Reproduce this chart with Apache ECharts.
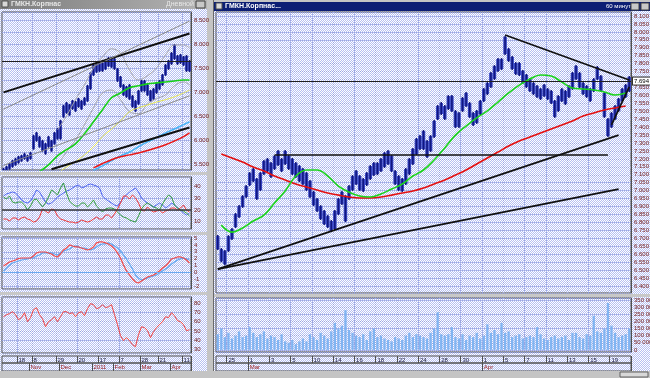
<!DOCTYPE html>
<html>
<head>
<meta charset="utf-8">
<title>ГМКН</title>
<script src="https://cdn.jsdelivr.net/npm/echarts@6/dist/echarts.min.js"></script>
<style>
  html, body { margin: 0; padding: 0; background: #fff; }
  #main { width: 650px; height: 378px; }
</style>
</head>
<body>
<div id="main"></div>
<script>
// ---- left window: daily bars, one slot ~ 2 trading days ----
const leftCats = Array.from({ length: 63 }, (_, i) => String(i));
const lHi = [5.422, 5.463, 5.526, 5.588, 5.630, 5.671, 5.692, 5.734, 5.692, 5.754,
  6.108, 6.170, 6.087, 6.004, 5.942, 6.087, 6.004, 6.170, 6.254, 6.420,
  6.732, 6.794, 6.753, 6.836, 6.815, 6.878, 6.836, 6.898, 7.148, 7.418,
  7.585, 7.606, 7.626, 7.626, 7.668, 7.730, 7.710, 7.710, 7.502, 7.335,
  7.169, 7.127, 7.169, 6.940, 6.836, 7.044, 7.252, 7.252, 7.169, 7.044,
  7.086, 7.210, 7.252, 7.377, 7.585, 7.668, 7.834, 8.001, 7.772, 7.793,
  7.751, 7.772, 7.668];
const lLo = [5.255, 5.297, 5.380, 5.422, 5.463, 5.505, 5.546, 5.588, 5.546, 5.588,
  5.796, 5.962, 5.838, 5.754, 5.692, 5.838, 5.754, 5.900, 6.004, 6.004,
  6.462, 6.545, 6.503, 6.628, 6.586, 6.670, 6.628, 6.711, 6.794, 7.044,
  7.335, 7.398, 7.418, 7.418, 7.460, 7.522, 7.502, 7.460, 7.210, 7.086,
  6.919, 6.878, 6.836, 6.670, 6.586, 6.732, 7.002, 7.002, 6.919, 6.794,
  6.836, 6.961, 7.044, 7.127, 7.335, 7.460, 7.564, 7.668, 7.564, 7.585,
  7.543, 7.418, 7.418];
const lMaIdx = [0, 3, 6, 9, 12, 15, 18, 21, 24, 27, 30, 33, 36, 39, 42, 45, 48, 51, 54, 57, 60, 62];
const lGreen = [4.65, 4.92, 5.07, 5.21, 5.34, 5.48, 5.67, 5.80, 5.92, 6.13, 6.38, 6.63, 6.88, 6.98, 7.09, 7.13, 7.17, 7.19, 7.21, 7.23, 7.25, 7.25];
const lYellow = [null, null, null, null, null, null, 5.30, 5.44, 5.55, 5.69, 5.86, 6.07, 6.23, 6.40, 6.59, 6.67, 6.73, 6.79, 6.84, 6.90, 6.98, 7.04];
const lCyan = [null, null, null, null, null, null, null, null, null, null, 5.37, 5.46, 5.57, 5.67, 5.75, 5.86, 5.96, 6.05, 6.15, 6.23, 6.32, 6.38];
const lRed = [null, null, null, null, null, null, null, null, null, null, 5.42, 5.51, 5.59, 5.65, 5.69, 5.73, 5.78, 5.84, 5.90, 5.98, 6.07, 6.15];
const lBandUp = [null, null, null, null, null, null, 6.21, 6.50, 6.84, 7.15, 7.50, 7.73, 7.90, 7.81, 7.46, 7.25, 7.34, 7.50, 7.77, 7.98, 7.98, 7.92];
const lBandDn = [null, null, null, null, null, null, 5.48, 5.75, 6.00, 6.32, 6.67, 6.98, 7.04, 6.84, 6.59, 6.55, 6.75, 6.86, 6.94, 7.13, 7.21, 7.15];
const lTrendBlack = [[[0, 6.992], [62, 8.219]], [[16, 5.390], [62, 6.260]]];
const lTrendGray = [[[0, 6.643], [62, 8.477]], [[0, 5.470], [62, 6.921]]];
const lLevel = 7.65;
const lastPrice = 7.694;

const adxBlue = [32.0, 33.7, 34.5, 35.4, 34.5, 32.0, 28.6, 26.8, 26.0, 27.7,
  32.0, 37.1, 35.4, 31.1, 26.8, 25.1, 26.0, 28.6, 31.1, 32.8,
  34.5, 36.2, 37.1, 38.8, 40.5, 41.4, 38.8, 39.7, 41.4, 42.2,
  41.4, 40.5, 38.8, 32.0, 29.4, 27.7, 26.0, 24.3, 23.4, 26.8,
  30.3, 32.8, 35.4, 37.1, 38.8, 35.4, 30.3, 27.7, 26.0, 24.3,
  22.6, 24.3, 26.0, 24.3, 21.7, 23.4, 26.0, 24.3, 21.7, 20.0,
  17.4, 15.7, 17.4];
const adxGreen = [31.1, 29.4, 32.0, 26.8, 26.0, 26.8, 26.8, 24.3, 20.0, 23.4,
  28.6, 29.4, 26.0, 22.6, 26.0, 31.1, 37.1, 35.4, 32.8, 38.8,
  43.1, 34.5, 27.7, 25.1, 23.4, 23.4, 26.0, 26.0, 22.6, 25.1,
  28.6, 23.4, 20.9, 18.3, 20.9, 21.7, 21.7, 20.9, 18.3, 15.7,
  14.0, 13.2, 11.5, 10.6, 9.7, 14.9, 20.9, 24.3, 26.0, 24.3,
  22.6, 21.7, 20.0, 25.1, 29.4, 32.8, 31.1, 24.3, 21.7, 20.0,
  19.1, 17.4, 14.9];
const adxRed = [12.3, 12.3, 10.6, 13.2, 13.2, 11.5, 13.2, 14.0, 12.3, 11.5,
  9.7, 10.6, 14.0, 20.9, 19.1, 17.4, 20.9, 20.0, 14.9, 12.3,
  11.5, 10.6, 9.7, 9.7, 8.9, 9.7, 11.5, 10.6, 9.7, 10.6,
  12.3, 14.0, 12.3, 12.3, 15.7, 15.7, 13.2, 16.6, 20.9, 26.0,
  32.0, 32.0, 29.4, 32.8, 30.3, 26.0, 20.0, 19.1, 22.6, 20.0,
  18.3, 19.1, 20.0, 17.4, 19.1, 20.0, 21.7, 21.7, 20.0, 21.7,
  24.3, 20.0, 18.3];
const macdRed = [0.94, 1.23, 1.52, 1.67, 1.81, 2.03, 2.10, 2.10, 2.10, 2.10,
  2.39, 2.83, 2.97, 2.97, 2.97, 2.83, 2.68, 2.39, 2.25, 2.68,
  3.26, 3.55, 3.99, 3.84, 3.70, 3.70, 3.55, 3.41, 3.26, 3.41,
  3.70, 4.28, 4.42, 4.42, 4.28, 4.13, 3.84, 3.41, 2.83, 2.10,
  1.09, 0.22, -0.36, -0.94, -1.38, -1.52, -1.23, -0.94, -0.65, -0.51,
  -0.36, -0.07, 0.22, 0.65, 0.94, 1.38, 1.96, 2.10, 2.25, 2.25,
  2.10, 1.81, 1.38];
const macdBlue = [0.22, 0.65, 1.09, 1.38, 1.52, 1.67, 1.81, 1.88, 1.96, 2.10,
  2.10, 2.39, 2.54, 2.83, 2.83, 2.83, 2.83, 2.68, 2.54, 2.83,
  3.12, 3.26, 3.41, 3.70, 3.84, 3.70, 3.55, 3.55, 3.41, 3.26,
  3.41, 3.70, 3.99, 4.13, 4.13, 4.28, 4.13, 3.84, 3.55, 3.12,
  2.54, 1.96, 1.23, 0.51, -0.36, -0.80, -1.09, -0.94, -0.80, -0.65,
  -0.51, -0.36, -0.07, 0.22, 0.51, 0.80, 1.23, 1.52, 1.81, 1.96,
  2.10, 1.96, 1.81];
const rsi = [65.3, 67.5, 68.6, 70.7, 67.5, 62.1, 64.3, 69.6, 60.0, 64.3,
  72.8, 75.0, 67.5, 63.2, 54.6, 60.0, 62.1, 65.3, 60.0, 65.3,
  70.7, 70.7, 68.6, 69.6, 65.3, 69.6, 70.7, 66.4, 73.9, 79.3,
  78.2, 73.9, 75.0, 78.2, 75.0, 76.0, 78.2, 67.5, 56.8, 45.0,
  39.7, 42.9, 39.7, 35.4, 33.2, 46.1, 54.6, 53.6, 50.4, 42.9,
  49.3, 53.6, 56.8, 60.0, 65.3, 64.3, 69.6, 66.4, 61.1, 60.0,
  56.8, 50.4, 51.4];
const lDayIdx = [5, 10, 18, 25, 32, 39, 46, 52, 60];
const lDayTxt = ['18', '8', '29', '20', '17', '7', '28', '21', '11'];
const lMonIdx = [9, 19, 30, 37, 46, 56];
const lMonTxt = ['Nov', 'Dec', '2011', 'Feb', 'Mar', 'Apr'];

// ---- right window: 60 min, three slots per trading day ----
const rightCats = Array.from({ length: 117 }, (_, i) => String(i));
const rHi = [6.720, 6.639, 6.626, 6.720, 6.765, 6.859, 6.909, 6.972, 7.035, 7.117,
  7.143, 7.080, 7.117, 7.193, 7.206, 7.180, 7.224, 7.256, 7.206, 7.256,
  7.224, 7.206, 7.180, 7.161, 7.143, 7.117, 7.067, 6.998, 6.954, 6.909,
  6.878, 6.846, 6.815, 6.878, 6.954, 6.998, 6.972, 7.035, 7.098, 7.130,
  7.098, 7.080, 7.117, 7.161, 7.180, 7.180, 7.206, 7.243, 7.256, 7.224,
  7.130, 7.098, 7.080, 7.143, 7.206, 7.269, 7.332, 7.350, 7.382, 7.319,
  7.350, 7.445, 7.539, 7.558, 7.539, 7.602, 7.602, 7.508, 7.495, 7.590,
  7.621, 7.558, 7.495, 7.508, 7.571, 7.646, 7.684, 7.747, 7.791, 7.835,
  7.835, 7.974, 7.898, 7.848, 7.810, 7.810, 7.760, 7.735, 7.709, 7.684,
  7.665, 7.646, 7.672, 7.646, 7.634, 7.571, 7.602, 7.646, 7.634, 7.665,
  7.747, 7.791, 7.747, 7.684, 7.665, 7.646, 7.709, 7.785, 7.728, 7.621,
  7.458, 7.495, 7.539, 7.584, 7.646, 7.672, 7.722];
const rLo = [6.626, 6.550, 6.531, 6.613, 6.689, 6.765, 6.828, 6.891, 6.954, 7.029,
  7.054, 6.941, 6.998, 7.098, 7.117, 7.080, 7.130, 7.155, 7.117, 7.161,
  7.130, 7.098, 7.080, 7.054, 7.035, 6.998, 6.954, 6.903, 6.865, 6.815,
  6.783, 6.765, 6.739, 6.752, 6.846, 6.909, 6.802, 6.941, 6.998, 7.035,
  6.998, 6.991, 7.029, 7.067, 7.092, 7.098, 7.117, 7.143, 7.161, 7.117,
  7.035, 6.998, 6.991, 7.035, 7.098, 7.161, 7.224, 7.256, 7.256, 7.206,
  7.243, 7.332, 7.445, 7.476, 7.445, 7.508, 7.495, 7.395, 7.395, 7.495,
  7.527, 7.458, 7.407, 7.420, 7.476, 7.558, 7.602, 7.646, 7.697, 7.747,
  7.760, 7.854, 7.810, 7.760, 7.728, 7.722, 7.672, 7.646, 7.621, 7.602,
  7.584, 7.571, 7.590, 7.571, 7.546, 7.458, 7.495, 7.558, 7.539, 7.584,
  7.634, 7.697, 7.646, 7.602, 7.584, 7.558, 7.621, 7.697, 7.621, 7.458,
  7.338, 7.395, 7.445, 7.495, 7.558, 7.584, 7.621];
// moving averages, one value per trading day
const rGreen = [6.783, 6.739, 6.765, 6.809, 6.846, 6.922, 6.998, 7.092, 7.130, 7.130,
  7.092, 7.029, 6.991, 6.966, 6.960, 6.979, 7.010, 7.042, 7.092, 7.130,
  7.193, 7.269, 7.350, 7.407, 7.458, 7.502, 7.558, 7.615, 7.665, 7.703,
  7.728, 7.722, 7.684, 7.646, 7.640, 7.634, 7.621, 7.602, 7.615];
const rRed = [7.231, 7.206, 7.180, 7.149, 7.124, 7.092, 7.067, 7.042, 7.023, 7.004,
  6.985, 6.972, 6.960, 6.954, 6.954, 6.960, 6.972, 6.985, 6.998, 7.017,
  7.042, 7.067, 7.098, 7.130, 7.168, 7.206, 7.243, 7.281, 7.313, 7.338,
  7.363, 7.388, 7.413, 7.439, 7.470, 7.489, 7.508, 7.521, 7.533];
const rVol = [110, 150, 90, 120, 80, 100, 130, 90,
  100, 160, 120, 90, 110, 130, 80, 100,
  90, 70, 110, 60, 50, 70, 40, 60,
  80, 60, 110, 90, 70, 120, 100, 80,
  130, 190, 150, 170, 280, 140, 120, 100,
  90, 110, 70, 130, 150, 90, 100, 80,
  70, 60, 90, 80, 70, 100, 120, 90,
  110, 100, 90, 80, 120, 150, 265, 110,
  100, 110, 160, 90, 80, 110, 70, 100,
  90, 120, 80, 100, 180, 120, 140, 110,
  190, 120, 130, 90, 100, 110, 80, 90,
  100, 90, 160, 110, 80, 70, 90, 100,
  80, 90, 100, 70, 120, 120, 90, 80,
  110, 100, 240, 130, 120, 150, 330, 170,
  120, 90, 100, 110, 150];
const rTrend = [[[0, 6.506], [113, 7.350]], [[0, 6.506], [113, 7.010]],
  [[81, 7.980], [116, 7.697]], [[111, 7.414], [116, 7.653]], [[16, 7.224], [110, 7.224]]];
const rDayIdx = [3, 9, 15, 21, 27, 33, 39, 45, 51, 57, 63, 69, 75, 81, 87, 93, 99, 105, 111];
const rDayTxt = ['25', '1', '3', '5', '10', '14', '16', '18', '22', '24', '28', '30', '1', '5', '7', '11', '13', '15', '19'];
const rMonIdx = [9, 75];
const rMonTxt = ['Mar', 'Apr'];
const rMaIdx = rGreen.map((_, d) => 3 * d + 1);

// ---- styling ----
const border = '#505050';
const gridLine = { color: '#9aa5e0', width: 1, type: [1, 1] };
const font = { fontFamily: 'Liberation Sans', fontSize: 6 };
const axisText = '#701818';

const pat = document.createElement('canvas');
pat.width = 2; pat.height = 2;
const pc = pat.getContext('2d');
pc.fillStyle = '#ffffff'; pc.fillRect(0, 0, 2, 2);
pc.fillStyle = '#b6c0f2'; pc.fillRect(1, 0, 1, 1); pc.fillRect(0, 1, 1, 1);

const pairs = (idx, vals) => idx.map((i, k) => [i, vals[k]]).filter(p => p[1] != null);
const bars = (hi, lo) => hi.map((h, i) => [i, h, lo[i]]);
const seg = (s, color, width) => [{ coord: s[0], lineStyle: { color, width, type: 'solid' } }, { coord: s[1] }];
const multipleOf = step => v => Math.abs(v / step - Math.round(v / step)) < 1e-6;

// high-low bar with a thin dark core, so neighbouring slots merge into a ragged band
function hlBar(color, core, frac) {
  return function (params, api) {
    const top = api.coord([api.value(0), api.value(1)]);
    const bot = api.coord([api.value(0), api.value(2)]);
    const w = Math.max(1, api.size([1, 0])[0] * frac);
    const h = Math.max(1, bot[1] - top[1]);
    return {
      type: 'group',
      children: [
        { type: 'rect', shape: { x: top[0] - w / 2, y: top[1] + 1, width: w, height: Math.max(1, h - 2) }, style: { fill: color } },
        { type: 'rect', shape: { x: top[0] - 0.75, y: top[1], width: 1.5, height: h }, style: { fill: core } }
      ]
    };
  };
}

const priceBox = {
  show: true, position: 'end', distance: 2, formatter: lastPrice.toFixed(3),
  backgroundColor: '#ffffff', borderColor: '#303030', borderWidth: 1, padding: [1, 1, 0, 1],
  color: '#000', ...font
};

const grids = [
  { left: 2, top: 12, width: 189, height: 158 },
  { left: 2, top: 177, width: 189, height: 52 },
  { left: 2, top: 237, width: 189, height: 52 },
  { left: 2, top: 297, width: 189, height: 56 },
  { left: 2, top: 356, width: 189, height: 7 },
  { left: 2, top: 363, width: 189, height: 8 },
  { left: 216, top: 12, width: 415, height: 281 },
  { left: 216, top: 298, width: 415, height: 54 },
  { left: 216, top: 356, width: 415, height: 7 },
  { left: 216, top: 363, width: 415, height: 8 }
].map(g => Object.assign({ show: true, borderColor: border, borderWidth: 1, backgroundColor: 'transparent', containLabel: false, outerBoundsMode: 'none' }, g));

function mainX(gi, cats, marks) {
  return {
    type: 'category', gridIndex: gi, data: cats, boundaryGap: true,
    axisLine: { show: false }, axisTick: { show: false }, axisLabel: { show: false },
    splitLine: { show: true, interval: i => marks.includes(i), lineStyle: gridLine }
  };
}
function dateX(gi, cats, marks, texts, color) {
  return {
    type: 'category', gridIndex: gi, data: cats, boundaryGap: true, position: 'top',
    axisLine: { show: false }, axisTick: { show: false },
    axisLabel: {
      show: true, inside: true, interval: i => marks.includes(i),
      formatter: (v, i) => texts[marks.indexOf(i)] || '',
      align: 'left', verticalAlign: 'top', margin: 1, color, ...font
    },
    splitLine: { show: true, interval: i => marks.includes(i), lineStyle: { color: border, width: 1 } }
  };
}
function valY(gi, min, max, split, step, fmt, extra) {
  const ok = multipleOf(step);
  return Object.assign({
    type: 'value', gridIndex: gi, position: 'right', min, max, splitNumber: split,
    axisLine: { show: true, lineStyle: { color: border } }, axisTick: { show: false },
    axisLabel: { show: true, margin: 3, color: axisText, ...font, formatter: v => (ok(v) ? fmt(v) : '') },
    splitLine: { show: true, lineStyle: gridLine }
  }, extra || {});
}
const hideY = gi => ({ type: 'value', gridIndex: gi, show: false, min: 0, max: 1 });

function line(ai, data, color, width, extra) {
  return Object.assign({
    type: 'line', xAxisIndex: ai, yAxisIndex: ai, data, symbol: 'none', showSymbol: false,
    lineStyle: { color, width }, itemStyle: { color }, clip: true, silent: true, connectNulls: true
  }, extra || {});
}

const option = {
  animation: false,
  backgroundColor: '#ffffff',
  grid: grids,
  xAxis: [
    mainX(0, leftCats, lDayIdx), mainX(1, leftCats, lDayIdx), mainX(2, leftCats, lDayIdx), mainX(3, leftCats, lDayIdx),
    dateX(4, leftCats, lDayIdx, lDayTxt, '#202040'), dateX(5, leftCats, lMonIdx, lMonTxt, '#9a1c1c'),
    mainX(6, rightCats, rDayIdx), mainX(7, rightCats, rDayIdx),
    dateX(8, rightCats, rDayIdx, rDayTxt, '#202040'), dateX(9, rightCats, rMonIdx, rMonTxt, '#9a1c1c')
  ],
  yAxis: [
    valY(0, 5.375, 8.667, 7, 0.5, v => v.toFixed(3), { minorTick: { show: false, splitNumber: 2 }, minorSplitLine: { show: true, lineStyle: gridLine } }),
    valY(1, 3.8, 48.2, 4, 10, v => String(Math.round(v))),
    valY(2, -2.39, 5.14, 8, 1, v => String(Math.round(v))),
    valY(3, 26.5, 86.4, 6, 10, v => String(Math.round(v))),
    hideY(4), hideY(5),
    valY(6, 6.3555, 8.125, 35, 0.05, v => v.toFixed(3)),
    valY(7, -15, 365, 8, 50, v => (Math.round(v) === 0 ? '0' : Math.round(v) + ' 000')),
    hideY(8), hideY(9)
  ],
  series: [
    { type: 'custom', xAxisIndex: 0, yAxisIndex: 0, data: bars(lHi, lLo), renderItem: hlBar('#3a48c4', '#10167e', 0.95), clip: true, encode: { x: 0, y: [1, 2] }, silent: true },
    line(0, pairs(lMaIdx, lBandUp), '#a4a4ac', 1, { smooth: 0.4 }),
    line(0, pairs(lMaIdx, lBandDn), '#a4a4ac', 1, { smooth: 0.4 }),
    line(0, pairs(lMaIdx, lYellow), '#e6e650', 1, { smooth: 0.4 }),
    line(0, pairs(lMaIdx, lCyan), '#48b4f8', 1.5, { smooth: 0.4 }),
    line(0, pairs(lMaIdx, lRed), '#e81818', 1.5, { smooth: 0.4 }),
    line(0, pairs(lMaIdx, lGreen), '#18d018', 1.6, {
      smooth: 0.4,
      markLine: {
        symbol: ['none', 'none'], silent: true, label: { show: false },
        data: [
          ...lTrendBlack.map(s => seg(s, '#101010', 2)),
          ...lTrendGray.map(s => seg(s, '#8a8a8a', 1)),
          { yAxis: lLevel, lineStyle: { color: '#202020', width: 1.2, type: 'solid' } },
          { yAxis: lastPrice, lineStyle: { opacity: 0 }, label: priceBox }
        ]
      }
    }),
    line(1, adxBlue, '#4a62f2', 1, {
      markLine: { symbol: ['none', 'none'], silent: true, label: { show: false }, data: [{ yAxis: 20, lineStyle: { color: '#383838', width: 1.5, type: 'solid' } }] }
    }),
    line(1, adxGreen, '#2f9a3c', 1),
    line(1, adxRed, '#f03434', 1),
    line(2, macdBlue, '#5ea6f2', 1.2, {
      markLine: { symbol: ['none', 'none'], silent: true, label: { show: false }, data: [{ yAxis: 0, lineStyle: { color: '#6aa8f0', width: 1, type: 'solid' } }] }
    }),
    line(2, macdRed, '#f04848', 1.2),
    line(3, rsi, '#f04040', 1),
    { type: 'custom', xAxisIndex: 6, yAxisIndex: 6, data: bars(rHi, rLo), renderItem: hlBar('#3a48c4', '#10167e', 1.0), clip: true, encode: { x: 0, y: [1, 2] }, silent: true },
    line(6, pairs(rMaIdx, rRed), '#e41010', 1.6, { smooth: 0.4 }),
    line(6, pairs(rMaIdx, rGreen), '#1cd41c', 1.6, {
      smooth: 0.4,
      markLine: {
        symbol: ['none', 'none'], silent: true, label: { show: false },
        data: [
          ...rTrend.map(s => seg(s, '#101010', 1.7)),
          { yAxis: lastPrice, lineStyle: { color: '#202020', width: 1.2, type: 'solid' }, label: priceBox }
        ]
      }
    }),
    { type: 'bar', xAxisIndex: 7, yAxisIndex: 7, data: rVol, barCategoryGap: '35%', itemStyle: { color: '#80b4f2' }, silent: true }
  ],
  graphic: [
    { type: 'rect', shape: { x: 0, y: 0, width: 650, height: 378 }, style: { fill: { image: pat, repeat: 'repeat' } }, z: -10, silent: true },
    // left window title
    { type: 'rect', shape: { x: 0, y: 0, width: 207, height: 9 }, style: { fill: new echarts.graphic.LinearGradient(0, 0, 1, 0, [{ offset: 0, color: '#7c7c7c' }, { offset: 1, color: '#b4b4b4' }]) }, silent: true },
    { type: 'rect', shape: { x: 2, y: 1, width: 6, height: 6 }, style: { fill: '#d8d8d8', stroke: '#505050', lineWidth: 1 }, silent: true },
    { type: 'text', x: 11, y: 1, style: { text: 'ГМКН.Корпнас', fill: '#e8e8e8', fontFamily: 'Liberation Sans', fontSize: 7, fontWeight: 'bold' }, silent: true },
    { type: 'text', x: 166, y: 1, style: { text: 'Дневной', fill: '#e8e8e8', fontFamily: 'Liberation Sans', fontSize: 7 }, silent: true },
    { type: 'rect', shape: { x: 196, y: 1, width: 9, height: 7 }, style: { fill: '#c8c8c8', stroke: '#404040', lineWidth: 1 }, silent: true },
    // splitters between left panels
    { type: 'rect', shape: { x: 0, y: 172, width: 207, height: 3 }, style: { fill: '#c8c8c8' }, silent: true },
    { type: 'rect', shape: { x: 0, y: 232, width: 207, height: 3 }, style: { fill: '#c8c8c8' }, silent: true },
    { type: 'rect', shape: { x: 0, y: 292, width: 207, height: 3 }, style: { fill: '#c8c8c8' }, silent: true },
    // frame between the two windows
    { type: 'rect', shape: { x: 207, y: 0, width: 7, height: 378 }, style: { fill: '#c4c4c4' }, silent: true },
    { type: 'rect', shape: { x: 213, y: 0, width: 1, height: 378 }, style: { fill: '#6a6a6a' }, silent: true },
    // right window title
    { type: 'rect', shape: { x: 214, y: 0, width: 436, height: 2 }, style: { fill: '#c4c4c4' }, silent: true },
    { type: 'rect', shape: { x: 214, y: 2, width: 436, height: 9 }, style: { fill: '#0c1e74' }, silent: true },
    { type: 'rect', shape: { x: 216, y: 3, width: 6, height: 6 }, style: { fill: '#d8d8d8', stroke: '#505050', lineWidth: 1 }, silent: true },
    { type: 'text', x: 225, y: 3, style: { text: 'ГМКН.Корпнас...', fill: '#ffffff', fontFamily: 'Liberation Sans', fontSize: 7, fontWeight: 'bold' }, silent: true },
    { type: 'text', x: 606, y: 3, style: { text: '60 минут', fill: '#ffffff', fontFamily: 'Liberation Sans', fontSize: 6 }, silent: true },
    { type: 'rect', shape: { x: 631, y: 3, width: 8, height: 7 }, style: { fill: '#c8c8c8', stroke: '#404040', lineWidth: 1 }, silent: true },
    { type: 'rect', shape: { x: 641, y: 3, width: 8, height: 7 }, style: { fill: '#c8c8c8', stroke: '#404040', lineWidth: 1 }, silent: true },
    // splitter between right price and volume
    { type: 'rect', shape: { x: 214, y: 294, width: 436, height: 3 }, style: { fill: '#c8c8c8' }, silent: true },
    // bottom scroll strip
    { type: 'rect', shape: { x: 0, y: 371, width: 650, height: 7 }, style: { fill: '#c4c4c4' }, silent: true },
    { type: 'rect', shape: { x: 620, y: 372, width: 28, height: 5 }, style: { fill: '#d8d8d8', stroke: '#606060', lineWidth: 1 }, silent: true }
  ]
};

const chart = echarts.init(document.getElementById('main'), null, { renderer: 'canvas' });
chart.setOption(option);
</script>
</body>
</html>
